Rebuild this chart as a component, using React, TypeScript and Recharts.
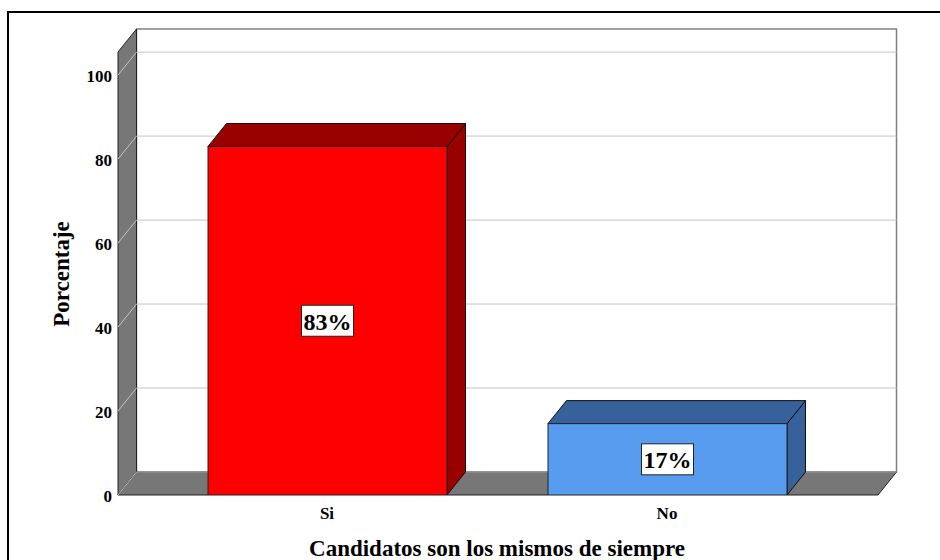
import { Bar, BarChart, CartesianGrid, LabelList, XAxis, YAxis } from "recharts";

const CATEGORIES = ["Si", "No"];
const PERCENTS = [83, 17];
const FRONT_COLORS = ["#FF0000", "#589CF0"];
const SHADE_COLORS = ["#990000", "#36619B"];
const Y_TICKS = [0, 20, 40, 60, 80, 100];
const Y_MAX = 105.5;
const X_TITLE = "Candidatos son los mismos de siempre";
const Y_TITLE = "Porcentaje";

const data = CATEGORIES.map((name, i) => ({ name, value: PERCENTS[i] }));

// layout
const W = 940;
const H = 560;
const LEFT = 118;
const RIGHT = 878;
const TOP = 52;
const BOTTOM = 495;
const DX = 18.5;
const DY = 23;
const FONT = "'Liberation Serif', 'Times New Roman', serif";
const WALL = "#777777";
const GRID = "#c4c4c4";

function Walls() {
  return (
    <svg width={W} height={H} style={{ position: "absolute", left: 0, top: 0 }}>
      <path d={`M8 ${H} L8 12 L${W} 12`} fill="none" stroke="#000" strokeWidth={2} />
      <rect
        x={LEFT + DX}
        y={TOP - DY}
        width={RIGHT - LEFT}
        height={BOTTOM - TOP}
        fill="#fff"
        stroke="#808080"
        strokeWidth={1.5}
      />
      <polygon
        points={`${LEFT},${TOP} ${LEFT + DX},${TOP - DY} ${LEFT + DX},${BOTTOM - DY} ${LEFT},${BOTTOM}`}
        fill={WALL}
        stroke="#222"
      />
      <polygon
        points={`${LEFT},${BOTTOM} ${LEFT + DX},${BOTTOM - DY} ${RIGHT + DX},${BOTTOM - DY} ${RIGHT},${BOTTOM}`}
        fill={WALL}
        stroke="#222"
      />
    </svg>
  );
}

function Box3D(props: any) {
  const { x, y, width, height, payload } = props;
  const i = CATEGORIES.indexOf(payload?.name);
  const front = FRONT_COLORS[i] ?? "#888";
  const shade = SHADE_COLORS[i] ?? "#444";
  return (
    <g>
      <polygon
        points={`${x + width},${y} ${x + width + DX},${y - DY} ${x + width + DX},${y + height - DY} ${x + width},${y + height}`}
        fill={shade}
        stroke="#111"
      />
      <polygon
        points={`${x},${y} ${x + DX},${y - DY} ${x + width + DX},${y - DY} ${x + width},${y}`}
        fill={shade}
        stroke="#111"
      />
      <rect x={x} y={y} width={width} height={height} fill={front} stroke="#222" />
    </g>
  );
}

function PctLabel(props: any) {
  const { x, y, width, height, value } = props;
  const cx = x + width / 2;
  const cy = y + height / 2;
  return (
    <g>
      <rect x={cx - 26} y={cy - 15.5} width={52} height={31} fill="#fff" stroke="#222" />
      <text
        x={cx}
        y={cy + 1}
        textAnchor="middle"
        dominantBaseline="central"
        fontFamily={FONT}
        fontWeight="bold"
        fontSize={24}
        fill="#000"
      >
        {`${value}%`}
      </text>
    </g>
  );
}

function YTick(props: any) {
  const { y, payload } = props;
  return (
    <g>
      <line x1={LEFT} y1={y} x2={LEFT + DX} y2={y - DY} stroke={GRID} />
      <text
        x={LEFT - 6}
        y={y + 1}
        textAnchor="end"
        dominantBaseline="central"
        fontFamily={FONT}
        fontWeight="bold"
        fontSize={17}
        fill="#000"
      >
        {payload.value}
      </text>
    </g>
  );
}

function XTick(props: any) {
  const { x, payload } = props;
  return (
    <text
      x={x}
      y={BOTTOM + 18}
      textAnchor="middle"
      dominantBaseline="central"
      fontFamily={FONT}
      fontWeight="bold"
      fontSize={17}
      fill="#000"
    >
      {payload.value}
    </text>
  );
}

export default function App() {
  return (
    <div style={{ position: "absolute", left: 0, top: 0, width: W, height: H, background: "#fff" }}>
      <Walls />
      <div style={{ position: "absolute", left: 0, top: 0 }}>
        <BarChart
          width={W}
          height={H}
          data={data}
          margin={{ top: TOP, right: W - RIGHT, left: LEFT - 60, bottom: H - BOTTOM - 30 }}
        >
          <CartesianGrid
            vertical={false}
            stroke={GRID}
            x={LEFT + DX}
            width={RIGHT - LEFT}
            horizontalCoordinatesGenerator={({ yAxis }: any) =>
              Y_TICKS.map((t) =>
                typeof yAxis?.scale === "function"
                  ? yAxis.scale(t) - DY
                  : BOTTOM - ((BOTTOM - TOP) * t) / Y_MAX - DY
              )
            }
          />
          <XAxis
            dataKey="name"
            height={30}
            axisLine={false}
            tickLine={false}
            padding={{ left: 39, right: 41 }}
            tick={<XTick />}
            label={{
              value: X_TITLE,
              position: "insideBottom",
              content: () => (
                <text
                  x={497}
                  y={548}
                  textAnchor="middle"
                  dominantBaseline="central"
                  fontFamily={FONT}
                  fontWeight="bold"
                  fontSize={23}
                  fill="#000"
                >
                  {X_TITLE}
                </text>
              ),
            }}
          />
          <YAxis
            width={60}
            type="number"
            domain={[0, Y_MAX]}
            ticks={Y_TICKS}
            allowDataOverflow
            axisLine={false}
            tickLine={false}
            tick={<YTick />}
            label={{
              value: Y_TITLE,
              position: "insideLeft",
              content: () => (
                <text
                  x={61}
                  y={274}
                  transform="rotate(-90 61 274)"
                  textAnchor="middle"
                  dominantBaseline="central"
                  fontFamily={FONT}
                  fontWeight="bold"
                  fontSize={23}
                  fill="#000"
                >
                  {Y_TITLE}
                </text>
              ),
            }}
          />
          <Bar dataKey="value" barSize={239} shape={<Box3D />} isAnimationActive={false}>
            <LabelList dataKey="value" content={<PctLabel />} />
          </Bar>
        </BarChart>
      </div>
    </div>
  );
}
